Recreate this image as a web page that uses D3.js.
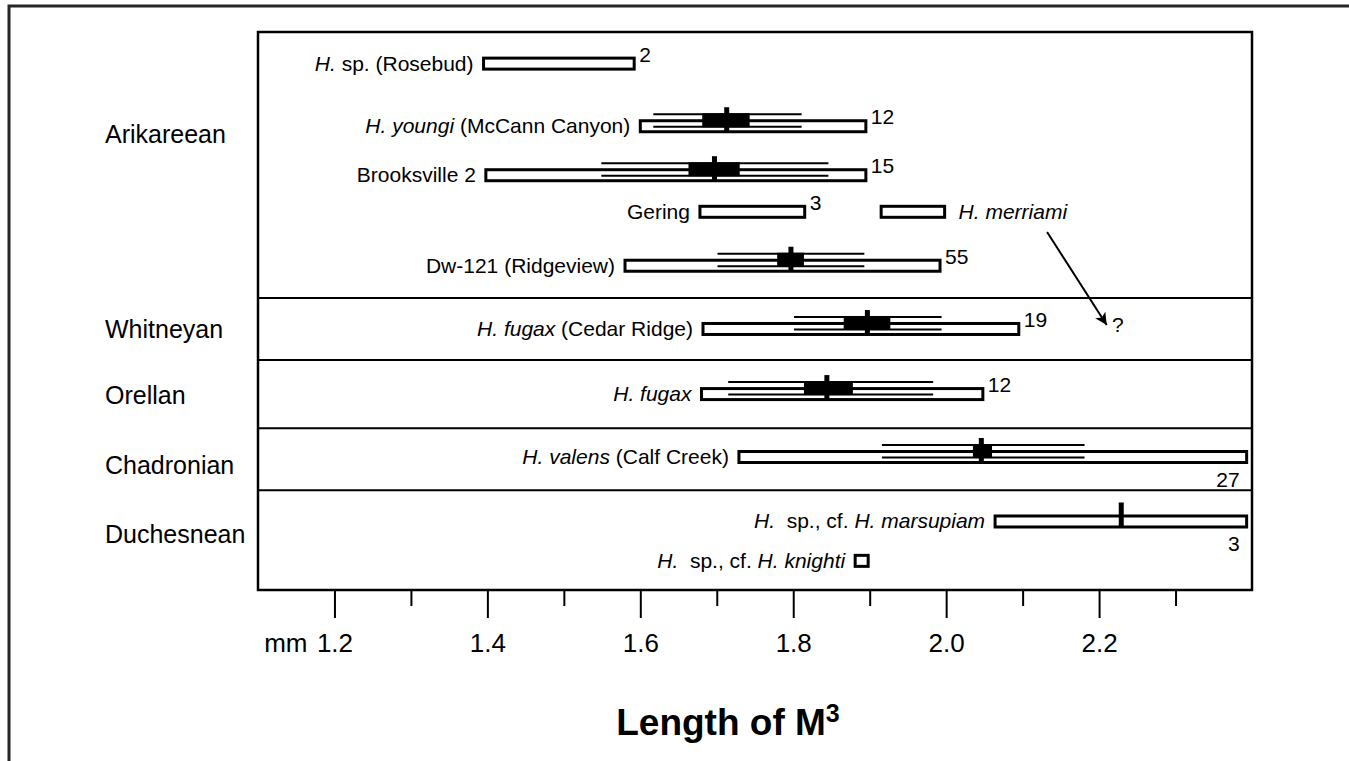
<!DOCTYPE html>
<html>
<head>
<meta charset="utf-8">
<script src="https://cdn.jsdelivr.net/npm/d3@7"></script>
<style>
  html, body { margin: 0; padding: 0; background: #fff; }
  svg { display: block; }
  text { font-family: "Liberation Sans", Arial, Helvetica, sans-serif; fill: #000; }
</style>
</head>
<body>
<div id="chart"></div>
<script>
// ---------------- DATA ----------------
// specimen labels (*...* = italic)
const labels = [
  "*H.* sp. (Rosebud)",
  "*H. youngi* (McCann Canyon)",
  "Brooksville 2",
  "Gering",
  "*H. merriami*",
  "Dw-121 (Ridgeview)",
  "*H. fugax* (Cedar Ridge)",
  "*H. fugax*",
  "*H. valens* (Calf Creek)",
  "*H.*  sp., cf. *H. marsupiam*",
  "*H.*  sp., cf. *H. knighti*"
];
const labelSide = ["left","left","left","left","right","left","left","left","left","left","left"];
// vertical row position (row units, top of plot = 0)
const rowPos   = [0.51, 1.52, 2.31, 2.90, 2.90, 3.77, 4.79, 5.84, 6.855, 7.895, 8.53];
// observed range of M3 length (mm)
const rangeLo  = [1.395, 1.600, 1.398, 1.678, 1.915, 1.580, 1.682, 1.680, 1.729, 2.064, 1.881];
const rangeHi  = [1.592, 1.895, 1.895, 1.815, 1.998, 1.992, 2.095, 2.048, 2.393, 2.393, 1.898];
// mean
const means    = [null, 1.713, 1.697, null, null, 1.797, 1.897, 1.844, 2.046, 2.229, null];
// thick black box (mean +/- SE)
const boxLo    = [null, 1.681, 1.663, null, null, 1.779, 1.866, 1.814, 2.035, null, null];
const boxHi    = [null, 1.743, 1.730, null, null, 1.814, 1.927, 1.878, 2.060, null, null];
// thin double lines (mean +/- SD)
const sdLo     = [null, 1.617, 1.549, null, null, 1.701, 1.801, 1.715, 1.916, null, null];
const sdHi     = [null, 1.811, 1.846, null, null, 1.893, 1.994, 1.983, 2.181, null, null];
// sample sizes and where they are printed
const nValues  = [2, 12, 15, 3, null, 55, 19, 12, 27, 3, null];
const nPlace   = ["right","right","right","right",null,"right","right","right","below","below",null];

// land-mammal ages
const eras          = ["Arikareean", "Whitneyan", "Orellan", "Chadronian", "Duchesnean"];
const eraLabelPos   = [1.64, 4.79, 5.85, 6.98, 8.10];
const eraBoundaries = [4.29, 5.29, 6.39, 7.39];

// x axis
const majorTicks = [1.2, 1.4, 1.6, 1.8, 2.0, 2.2];
const minorTicks = [1.3, 1.5, 1.7, 1.9, 2.1, 2.3];
const xDomain = [1.1, 2.4];
const rowDomain = [0, 9];

// annotation: H. merriami arrow to "?"
const arrowFrom = [2.132, 3.226];
const arrowTo   = [2.210, 4.726];
const questionAt = [2.217, 4.84];

// ---------------- LAYOUT ----------------
const W = 1349, H = 761;
const plot = { left: 258, top: 32, right: 1252, bottom: 590 };

const svg = d3.select("#chart").append("svg")
  .attr("width", W).attr("height", H);

svg.append("defs").append("marker")
  .attr("id", "arrowhead")
  .attr("viewBox", "0 0 10 10")
  .attr("refX", 10).attr("refY", 5)
  .attr("markerWidth", 6).attr("markerHeight", 6)
  .attr("markerUnits", "strokeWidth")
  .attr("orient", "auto")
  .append("path").attr("d", "M0,0 L10,5 L0,10 L2.5,5 Z").attr("fill", "#000");

const x = d3.scaleLinear().domain(xDomain).range([plot.left, plot.right]);
const y = d3.scaleLinear().domain(rowDomain).range([plot.top, plot.bottom]);

// outer frame (top + left)
svg.append("path")
  .attr("d", `M9,${H} L9,6 L${W},6`)
  .attr("fill", "none").attr("stroke", "#262626").attr("stroke-width", 3);

// plot box
svg.append("rect")
  .attr("x", plot.left).attr("y", plot.top)
  .attr("width", plot.right - plot.left).attr("height", plot.bottom - plot.top)
  .attr("fill", "none").attr("stroke", "#000").attr("stroke-width", 2.5);

// era separators
svg.selectAll("line.sep").data(eraBoundaries).enter().append("line")
  .attr("class", "sep")
  .attr("x1", plot.left).attr("x2", plot.right)
  .attr("y1", d => y(d)).attr("y2", d => y(d))
  .attr("stroke", "#000").attr("stroke-width", 2);

// era labels
svg.selectAll("text.era").data(eras).enter().append("text")
  .attr("class", "era")
  .attr("x", 105)
  .attr("y", (d, i) => y(eraLabelPos[i]))
  .attr("dy", "0.36em")
  .style("font-size", "25px")
  .text(d => d);

// axis
const axisG = svg.append("g").attr("transform", `translate(0,${plot.bottom})`);
const majorAxis = d3.axisBottom(x).tickValues(majorTicks).tickSize(28).tickPadding(16)
  .tickFormat(d3.format(".1f"));
const minorAxis = d3.axisBottom(x).tickValues(minorTicks).tickSize(16).tickFormat("");
axisG.append("g").call(majorAxis);
axisG.append("g").call(minorAxis);
axisG.selectAll(".domain").remove();
axisG.selectAll(".tick line").attr("stroke", "#000").attr("stroke-width", 2);
axisG.selectAll(".tick text")
  .style("font-size", "26px")
  .style("font-family", "\"Liberation Sans\", Arial, sans-serif")
  .attr("fill", "#000");

svg.append("text")
  .attr("x", x(1.2) - 27).attr("y", 652)
  .attr("text-anchor", "end")
  .style("font-size", "26px")
  .text("mm");

// title
const title = svg.append("text")
  .attr("x", 728).attr("y", 735)
  .attr("text-anchor", "middle")
  .style("font-size", "37px").style("font-weight", "bold");
title.append("tspan").text("Length of M");
title.append("tspan").attr("dy", "-13").style("font-size", "25px").text("3");

// specimen rows
const idx = d3.range(labels.length);
const rows = svg.append("g").selectAll("g.row").data(idx).enter().append("g").attr("class", "row");
const BAR_H = 11;

// range bars
rows.append("rect")
  .attr("x", i => x(rangeLo[i]))
  .attr("y", i => y(rowPos[i]) - BAR_H / 2)
  .attr("width", i => x(rangeHi[i]) - x(rangeLo[i]))
  .attr("height", BAR_H)
  .attr("fill", "#fff").attr("stroke", "#000").attr("stroke-width", 3);

// SD double lines
const withSd = idx.filter(i => sdLo[i] != null);
[-12, 0.5].forEach(off => {
  svg.append("g").selectAll("line").data(withSd).enter().append("line")
    .attr("x1", i => x(sdLo[i])).attr("x2", i => x(sdHi[i]))
    .attr("y1", i => y(rowPos[i]) + off).attr("y2", i => y(rowPos[i]) + off)
    .attr("stroke", "#000").attr("stroke-width", 2);
});

// SE boxes
const withBox = idx.filter(i => boxLo[i] != null);
svg.append("g").selectAll("rect").data(withBox).enter().append("rect")
  .attr("x", i => x(boxLo[i]))
  .attr("y", i => y(rowPos[i]) - 13)
  .attr("width", i => x(boxHi[i]) - x(boxLo[i]))
  .attr("height", 14)
  .attr("fill", "#000");

// means
const withMean = idx.filter(i => means[i] != null);
svg.append("g").selectAll("rect").data(withMean).enter().append("rect")
  .attr("x", i => x(means[i]) - 2.5)
  .attr("y", i => y(rowPos[i]) - 19)
  .attr("width", 5)
  .attr("height", 25)
  .attr("fill", "#000");

// species labels with italic parts
function addRich(sel, str) {
  const parts = str.split("*");
  parts.forEach((p, k) => {
    if (!p) return;
    sel.append("tspan").style("font-style", k % 2 === 1 ? "italic" : "normal")
      .attr("xml:space", "preserve").text(p);
  });
}
svg.append("g").selectAll("text").data(idx).enter().append("text")
  .attr("x", i => labelSide[i] === "left" ? x(rangeLo[i]) - 10 : x(rangeHi[i]) + 14)
  .attr("y", i => y(rowPos[i]) + 7)
  .attr("text-anchor", i => labelSide[i] === "left" ? "end" : "start")
  .style("font-size", "21px")
  .style("white-space", "pre")
  .each(function(i) { addRich(d3.select(this), labels[i]); });

// sample sizes
const withN = idx.filter(i => nValues[i] != null);
svg.append("g").selectAll("text").data(withN).enter().append("text")
  .attr("x", i => nPlace[i] === "right" ? x(rangeHi[i]) + 5 : x(rangeHi[i]) - 7)
  .attr("y", i => nPlace[i] === "right" ? y(rowPos[i]) - 2 : y(rowPos[i]) + 30)
  .attr("text-anchor", i => nPlace[i] === "right" ? "start" : "end")
  .style("font-size", "21px")
  .text(i => nValues[i]);

// arrow annotation
svg.append("line")
  .attr("x1", x(arrowFrom[0])).attr("y1", y(arrowFrom[1]))
  .attr("x2", x(arrowTo[0])).attr("y2", y(arrowTo[1]))
  .attr("stroke", "#000").attr("stroke-width", 2)
  .attr("marker-end", "url(#arrowhead)");
svg.append("text")
  .attr("x", x(questionAt[0])).attr("y", y(questionAt[1]))
  .style("font-size", "21px")
  .text("?");
</script>
</body>
</html>
